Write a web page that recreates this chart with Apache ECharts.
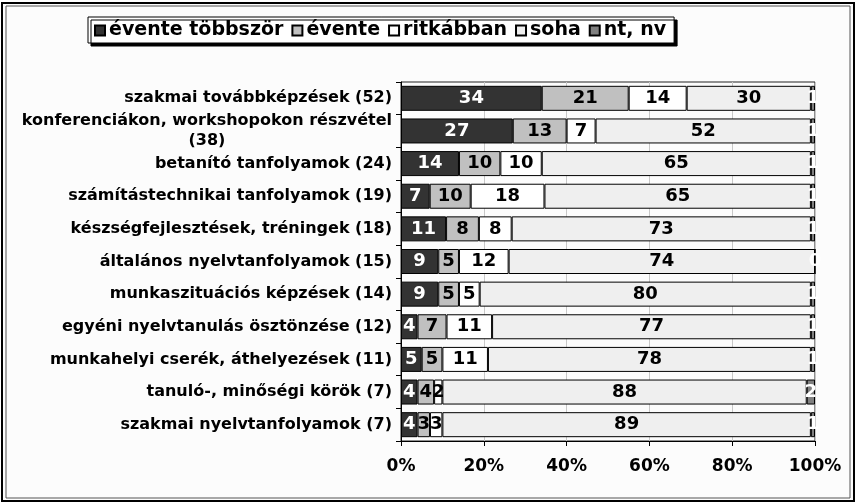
<!DOCTYPE html>
<html>
<head>
<meta charset="utf-8">
<script src="https://cdn.jsdelivr.net/npm/echarts@6/dist/echarts.min.js"></script>
<style>
  html, body { margin: 0; padding: 0; background: #fff; }
  #chart { width: 857px; height: 504px; }
</style>
</head>
<body>
<div id="chart"></div>
<script>
// categories top to bottom
const categories = [
  'szakmai továbbképzések (52)',
  'konferenciákon, workshopokon részvétel\n(38)',
  'betanító tanfolyamok (24)',
  'számítástechnikai tanfolyamok (19)',
  'készségfejlesztések, tréningek (18)',
  'általános nyelvtanfolyamok (15)',
  'munkaszituációs képzések (14)',
  'egyéni nyelvtanulás ösztönzése (12)',
  'munkahelyi cserék, áthelyezések (11)',
  'tanuló-, minőségi körök (7)',
  'szakmai nyelvtanfolyamok (7)'
];

const seriesNames = ['évente többször', 'évente', 'ritkábban', 'soha', 'nt, nv'];

// values
const eventeTobbszor = [34, 27, 14, 7, 11, 9, 9, 4, 5, 4, 4];
const evente         = [21, 13, 10, 10, 8, 5, 5, 7, 5, 4, 3];
const ritkabban      = [14, 7, 10, 18, 8, 12, 5, 11, 11, 2, 3];
const soha           = [30, 52, 65, 65, 73, 74, 80, 77, 78, 88, 89];
const ntNv           = [1, 1, 1, 1, 1, 0, 1, 1, 1, 2, 1];

const xTicks = [0, 20, 40, 60, 80, 100];

const raw = [eventeTobbszor, evente, ritkabban, soha, ntNv];
const colors = ['#333333', '#c0c0c0', '#ffffff', '#efefef', '#808080'];
const labelColors = ['#fff', '#000', '#000', '#000', '#fff'];

// rows are 100% stacked
const rowSum = categories.map((c, i) => raw.reduce((s, arr) => s + arr[i], 0));

const FONT = 'DejaVu Sans';

const chart = echarts.init(document.getElementById('chart'));

const series = raw.map((arr, si) => ({
  name: seriesNames[si],
  type: 'bar',
  stack: 'total',
  barWidth: 25,
  data: arr.map((v, i) => ({ value: v / rowSum[i] * 100, raw: v })),
  itemStyle: { color: colors[si], borderColor: '#000', borderWidth: 1 },
  label: {
    show: true,
    position: 'inside',
    formatter: p => p.data.raw,
    color: labelColors[si],
    fontFamily: FONT,
    fontWeight: 'bold',
    fontSize: 18
  },
  emphasis: { disabled: true }
}));

chart.setOption({
  backgroundColor: '#ffffff',
  animation: false,
  graphic: [
    { type: 'rect', shape: { x: 2, y: 3, width: 852, height: 498 },
      style: { fill: '#fcfcfc', stroke: '#000', lineWidth: 2 }, z: -10 },
    { type: 'rect', shape: { x: 6, y: 6, width: 844, height: 492 },
      style: { fill: 'none', stroke: '#555', lineWidth: 1 }, z: -10 }
  ],
  legend: {
    left: 88,
    top: 17,
    padding: [4, 8, 3, 6],
    itemWidth: 10,
    itemHeight: 10,
    itemGap: 8,
    icon: 'rect',
    backgroundColor: '#fff',
    borderColor: '#000',
    borderWidth: 1,
    shadowColor: '#000',
    shadowOffsetX: 3,
    shadowOffsetY: 3,
    shadowBlur: 0,
    textStyle: { fontFamily: FONT, fontWeight: 'bold', fontSize: 19, color: '#000', padding: [0, 0, 0, -1] },
    data: seriesNames
  },
  grid: {
    left: 401,
    right: 42,
    top: 82,
    bottom: 63,
    show: true,
    borderColor: '#222',
    borderWidth: 1
  },
  xAxis: {
    type: 'value',
    min: 0,
    max: 100,
    interval: 20,
    axisLine: { show: true, lineStyle: { color: '#000' } },
    axisTick: { show: true, length: 5, lineStyle: { color: '#000' } },
    splitLine: { show: true, lineStyle: { color: '#c8c8c8' } },
    axisLabel: {
      margin: 17,
      fontFamily: FONT, fontWeight: 'bold', fontSize: 17, color: '#000',
      formatter: v => xTicks.includes(v) ? v + '%' : ''
    }
  },
  yAxis: {
    type: 'category',
    inverse: true,
    data: categories,
    axisLine: { show: true, lineStyle: { color: '#000' } },
    axisTick: { show: true, length: 5, lineStyle: { color: '#000' } },
    axisLabel: {
      margin: 9,
      fontFamily: FONT, fontWeight: 'bold', fontSize: 16, color: '#000',
      lineHeight: 20,
      formatter: v => {
        const parts = v.split('\n');
        if (parts.length === 1) return v;
        return '{a|' + parts[0] + '}\n{c|' + parts[1] + '}';
      },
      rich: {
        a: { fontFamily: FONT, fontWeight: 'bold', fontSize: 16, color: '#000', lineHeight: 20 },
        c: { fontFamily: FONT, fontWeight: 'bold', fontSize: 16, color: '#000', lineHeight: 20, align: 'center' }
      }
    }
  },
  series: series
});

window.addEventListener('resize', () => chart.resize());
</script>
</body>
</html>
